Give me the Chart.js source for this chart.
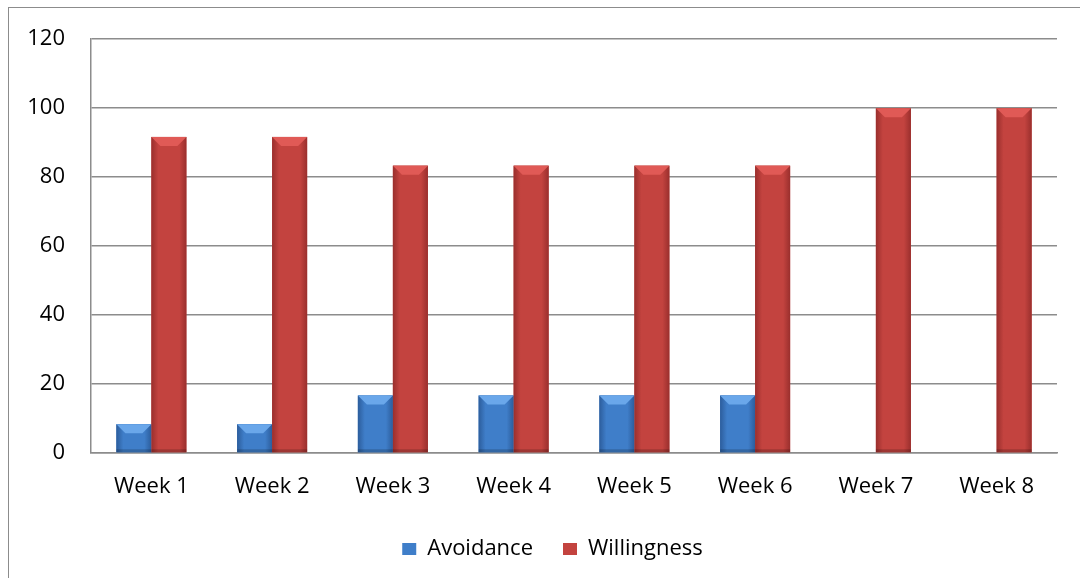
<!DOCTYPE html>
<html>
<head>
<meta charset="utf-8">
<script src="https://cdn.jsdelivr.net/npm/chart.js@4/dist/chart.umd.min.js"></script>
<style>
  html, body { margin: 0; padding: 0; background: #fff; }
  #wrap { position: relative; width: 1080px; height: 578px; overflow: hidden; }
  #frame {
    position: absolute; left: 8px; top: 7px;
    width: 1200px; height: 700px;
    border: 1.5px solid #8c8c8c;
  }
  #weekChart { position: absolute; left: 0; top: 0; }
</style>
</head>
<body>
<div id="wrap">
  <div id="frame"></div>
  <canvas id="weekChart" width="1080" height="578"></canvas>
</div>
<script>
/* --------- DATA --------- */
const weeks = ["Week 1", "Week 2", "Week 3", "Week 4", "Week 5", "Week 6", "Week 7", "Week 8"];
const avoidance = [8.33, 8.33, 16.67, 16.67, 16.67, 16.67, 0, 0];
const willingness = [91.67, 91.67, 83.33, 83.33, 83.33, 83.33, 100, 100];
const yTicks = [0, 20, 40, 60, 80, 100, 120];

const FONT = "'Open Sans', sans-serif";
const GRID = "#8c8c8c";

/* --------- BEVEL LOOK --------- */
// darker sides + light top bevel, like the office 3D bar style
const bevelColors = {
  Avoidance: { edge: "#2c5d9c", mid: "#3f7ec9", top: "#6aa7ea" },
  Willingness: { edge: "#9a2f2d", mid: "#c3433f", top: "#e05a56" }
};

const bevelPlugin = {
  id: "bevel",
  afterDatasetsDraw(chart) {
    const c = chart.ctx;
    chart.data.datasets.forEach((ds, i) => {
      const meta = chart.getDatasetMeta(i);
      const col = bevelColors[ds.label];
      meta.data.forEach(bar => {
        const left = bar.x - bar.width / 2;
        const right = bar.x + bar.width / 2;
        const top = bar.y;
        const h = bar.base - bar.y;
        if (h <= 0) return;
        const w = right - left;

        const g = c.createLinearGradient(left, 0, right, 0);
        g.addColorStop(0, col.edge);
        g.addColorStop(0.2, col.mid);
        g.addColorStop(0.8, col.mid);
        g.addColorStop(1, col.edge);
        c.save();
        c.fillStyle = g;
        c.fillRect(left, top, w, h);

        const b = Math.min(9, h / 2);
        c.fillStyle = col.top;
        c.beginPath();
        c.moveTo(left, top);
        c.lineTo(right, top);
        c.lineTo(right - b, top + b);
        c.lineTo(left + b, top + b);
        c.closePath();
        c.fill();

        c.fillStyle = "rgba(0,0,0,0.18)";
        c.fillRect(left, bar.base - 3, w, 3);
        c.restore();
      });
    });
  }
};

// legend sits a bit right of the canvas centre in the original
const legendShift = {
  id: "legendShift",
  afterLayout(chart) {
    chart.legend.left += 24;
    chart.legend.right += 24;
  }
};

/* --------- CHART --------- */
const chart = new Chart(document.getElementById("weekChart"), {
  type: "bar",
  data: {
    labels: weeks,
    datasets: [
      { label: "Avoidance", data: avoidance, backgroundColor: "#3f7ec9" },
      { label: "Willingness", data: willingness, backgroundColor: "#c3433f" }
    ]
  },
  options: {
    responsive: false,
    animation: false,
    layout: { padding: { top: 37, right: 23, left: 0, bottom: 8 } },
    datasets: {
      bar: { categoryPercentage: 0.58, barPercentage: 1.0 }
    },
    scales: {
      x: {
        grid: { display: false, drawTicks: false },
        border: { color: GRID, width: 1.5 },
        ticks: { color: "#000", font: { family: FONT, size: 22 }, padding: 21 },
        afterFit: s => { s.height = 55; }
      },
      y: {
        min: 0,
        max: 120,
        afterBuildTicks: s => { s.ticks = yTicks.map(v => ({ value: v })); },
        grid: { color: GRID, lineWidth: 1.5, drawTicks: false },
        border: { color: GRID, width: 1.5 },
        ticks: { color: "#000", font: { family: FONT, size: 22 }, padding: 26 },
        afterFit: s => { s.width = 91; }
      }
    },
    plugins: {
      legend: {
        position: "bottom",
        labels: {
          color: "#000",
          font: { family: FONT, size: 22 },
          boxWidth: 14,
          boxHeight: 12,
          padding: 30
        }
      },
      tooltip: { enabled: false }
    }
  },
  plugins: [bevelPlugin, legendShift]
});
</script>
</body>
</html>
